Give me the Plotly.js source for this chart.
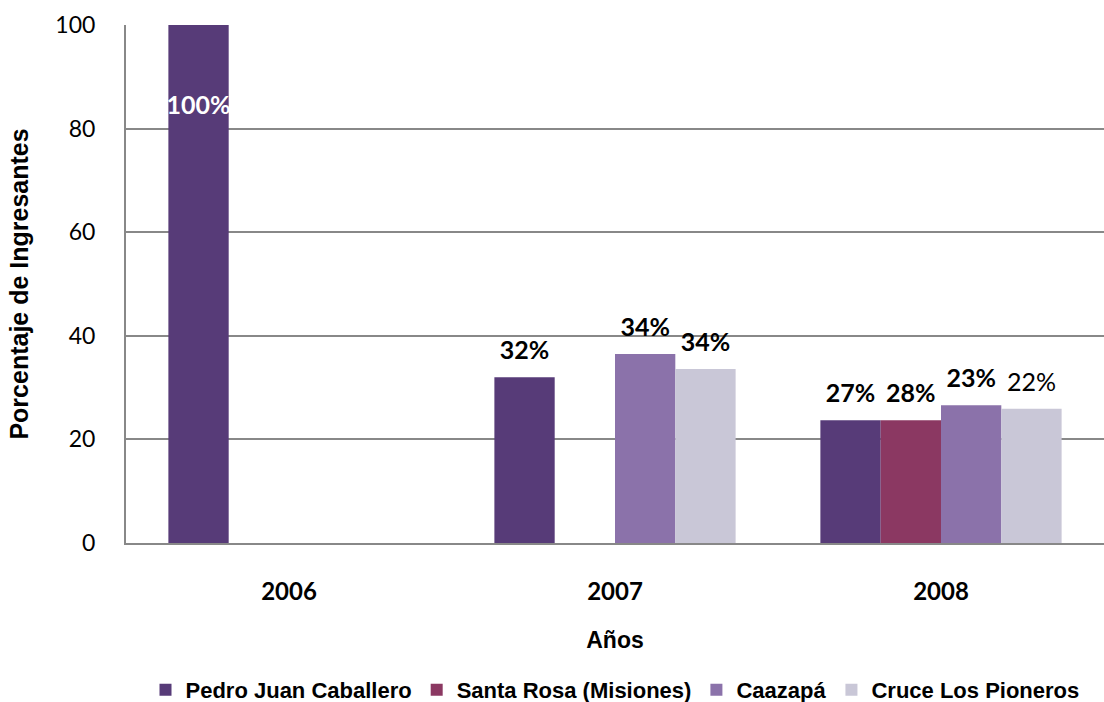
<!DOCTYPE html>
<html><head><meta charset="utf-8">
<script src="https://cdn.plot.ly/plotly-3.0.1.min.js"></script>
<style>body{margin:0;background:#fff}#chart{width:1104px;height:702px}</style>
</head><body><div id="chart"></div>
<script>
const years = ['2006', '2007', '2008'];
const seriesNames = ['Pedro Juan Caballero', 'Santa Rosa (Misiones)', 'Caazapá', 'Cruce Los Pioneros'];
const pedroValues = [100, 32, 23.7];
const santaRosaValues = [null, null, 23.7];
const caazapaValues = [null, 36.5, 26.6];
const cruceValues = [null, 33.6, 25.9];
const pedroLabels = ['100%', '32%', '27%'];
const santaRosaLabels = ['', '', '28%'];
const caazapaLabels = ['', '34%', '23%'];
const cruceLabels = ['', '34%', '22%'];
const cruceBold = [true, true, false];
const colors = ['#573b78', '#8b3862', '#8b72aa', '#c9c7d7'];

function bold(arr, flags) {
  return arr.map((t, i) => (t && (!flags || flags[i])) ? '<b>' + t + '</b>' : t);
}

const values = [pedroValues, santaRosaValues, caazapaValues, cruceValues];
const labels = [bold(pedroLabels), bold(santaRosaLabels), bold(caazapaLabels), bold(cruceLabels, cruceBold)];

const barTraces = values.map((v, k) => ({
  type: 'bar',
  name: seriesNames[k],
  x: years,
  y: v,
  marker: {color: colors[k], line: {width: 0}},
  hoverinfo: 'none'
}));

// value labels, grouped like the bars (scattermode: 'group')
const labelTraces = values.map((v, k) => ({
  type: 'scatter',
  mode: 'markers+text',
  orientation: 'v',
  showlegend: false,
  x: years,
  y: v,
  text: labels[k],
  textposition: k === 0 ? ['bottom center', 'top center', 'top center'] : 'top center',
  textfont: {family: 'Lato, sans-serif', size: 25,
             color: k === 0 ? ['#ffffff', '#000000', '#000000'] : '#000000'},
  marker: {size: k === 0 ? [110, 17, 17] : 17, opacity: 0, color: '#ffffff'},
  cliponaxis: false,
  hoverinfo: 'none'
}));

const layout = {
  width: 1104, height: 702,
  margin: {l: 126, r: 0, t: 25, b: 159},
  paper_bgcolor: '#ffffff', plot_bgcolor: '#ffffff',
  barmode: 'group', bargap: 0.26, bargroupgap: 0,
  scattermode: 'group', scattergap: 0.26,
  showlegend: true,
  legend: {orientation: 'h', x: 0.5, xanchor: 'center', yref: 'container', y: 0.017, yanchor: 'middle',
           font: {family: 'Liberation Sans, Arial, sans-serif', size: 22, color: '#000', weight: 'bold'},
           itemwidth: 30, tracegroupgap: 0, traceorder: 'normal'},
  xaxis: {type: 'category', showgrid: false, showline: true, linecolor: '#888888', linewidth: 2,
          ticks: '', ticklabelstandoff: 26, automargin: false,
          tickfont: {family: 'Lato, sans-serif', size: 24, color: '#000', weight: 'bold'},
          title: {text: '<b>Años</b>', standoff: 28, font: {family: 'Liberation Sans, Arial, sans-serif', size: 23, color: '#000'}}},
  yaxis: {range: [0, 100], dtick: 20, showgrid: true, gridcolor: '#888888', gridwidth: 2,
          showline: true, linecolor: '#888888', linewidth: 2, zeroline: false,
          ticks: '', ticklabelstandoff: 24, automargin: false,
          tickfont: {family: 'Lato, sans-serif', size: 23, color: '#000'},
          title: {text: '<b>Porcentaje de Ingresantes</b>', standoff: 20, font: {family: 'Liberation Sans, Arial, sans-serif', size: 25, color: '#000'}}},
  font: {family: 'Lato, sans-serif'}
};

Plotly.newPlot('chart', barTraces.concat(labelTraces), layout, {displayModeBar: false, staticPlot: true});
</script></body></html>
